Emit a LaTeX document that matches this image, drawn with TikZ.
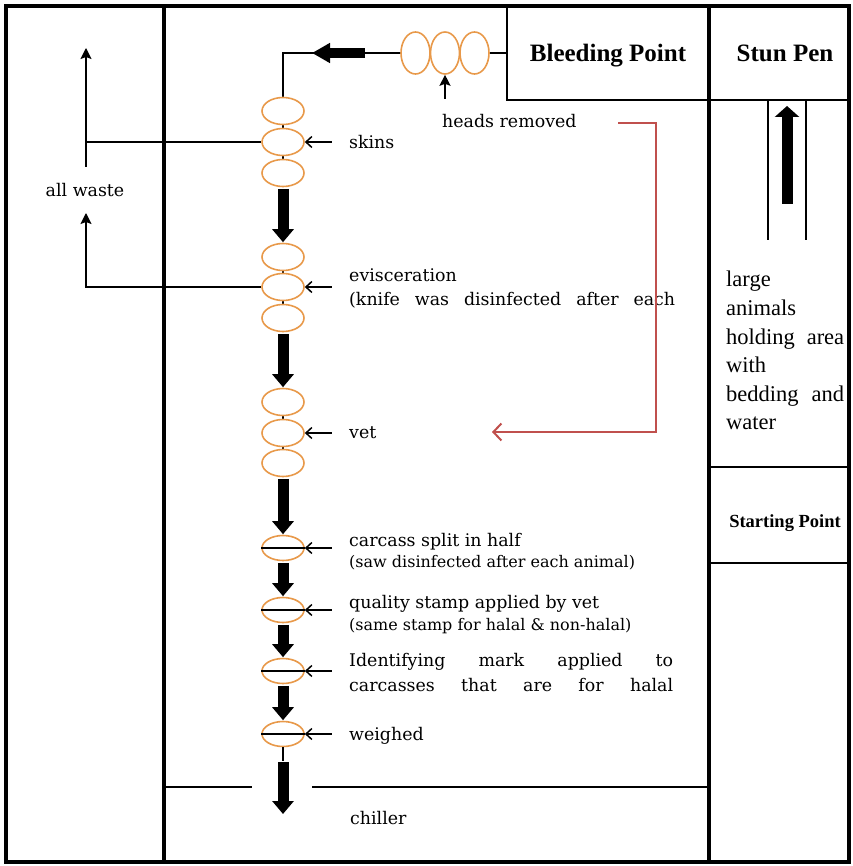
\documentclass[tikz,border=0pt]{standalone}
\usepackage{fontspec}
\setmainfont{DejaVu Serif}
\newfontfamily\tnr{Liberation Serif}
\usetikzlibrary{shapes.geometric,arrows.meta}
\definecolor{ovalc}{HTML}{E8994A}
\definecolor{redc}{HTML}{C0504D}
\pgfdeclarelayer{background}
\pgfsetlayers{background,main}
\begin{document}
\begin{tikzpicture}[x=1pt,y=-1pt,
  oval/.style={ellipse,draw=ovalc,line width=1.6pt,fill=white,minimum width=42pt,minimum height=27pt,inner sep=0pt},
  hoval/.style={oval,minimum width=29pt,minimum height=42pt},
  soval/.style={oval,minimum height=25pt},
  wall/.style={line width=3.5pt},
  thinwall/.style={line width=1.8pt},
  chain/.style={line width=1.5pt},
  blockarrow/.style={line width=11pt,-{Triangle[width=21pt,length=13pt]},shorten <=1.5pt,shorten >=0.5pt},
  lblarrow/.style={line width=1.5pt,-{Straight Barb[length=6pt,width=11pt,line width=1.5pt]}},
  wastearrow/.style={line width=1.5pt,-{Stealth[length=11pt,width=11pt,inset=2pt]}},
  redarrow/.style={draw=redc,line width=2pt,-{Straight Barb[length=8pt,width=17pt,line width=2pt]}},
  lbl/.style={anchor=base west,inner sep=0pt,font=\fontsize{17.4}{20}\selectfont},
  sublbl/.style={anchor=base west,inner sep=0pt,font=\fontsize{16}{19}\selectfont},
  boldlbl/.style={anchor=base,inner sep=0pt,font=\tnr\bfseries\fontsize{25}{30}\selectfont},
  timeslbl/.style={anchor=base west,inner sep=0pt,font=\tnr\fontsize{22.5}{28}\selectfont}
]
\useasboundingbox (0,0) rectangle (852,866);

% walls
\draw[wall] (6,6) rectangle (849,862);
\draw[wall] (164,6) -- (164,862);
\draw[wall] (709,6) -- (709,862);
\draw[thinwall] (507,6) -- (507,100) -- (709,100);
\draw[thinwall] (709,100) -- (849,100);
\draw[thinwall] (709,467) -- (849,467);
\draw[thinwall] (709,563) -- (849,563);
\draw[thinwall] (164,787) -- (252,787);
\draw[thinwall] (312,787) -- (709,787);
% stun pen chute
\draw[chain] (768,100) -- (768,240);
\draw[chain] (806,100) -- (806,240);
\coordinate (stunA) at (787,204);
\coordinate (stunB) at (787,106);
\draw[line width=11pt,-{Triangle[width=24pt,length=11pt]}] (stunA) -- (stunB);

% top horizontal ovals
\node[hoval] (h1) at (415.5,53) {};
\node[hoval] (h2) at (445,53) {};
\node[hoval] (h3) at (474.5,53) {};
\coordinate (bp) at (507,53);

% skins group
\node[oval] (s1) at (283,111) {};
\node[oval] (s2) at (283,142) {};
\node[oval] (s3) at (283,173) {};
% evisceration group
\node[oval] (e1) at (283,257) {};
\node[oval] (e2) at (283,287) {};
\node[oval] (e3) at (283,318) {};
% vet group
\node[oval] (v1) at (283,402) {};
\node[oval] (v2) at (283,433) {};
\node[oval] (v3) at (283,463) {};
% single ovals
\node[soval] (c1) at (283,548) {};
\node[soval] (c2) at (283,610) {};
\node[soval] (c3) at (283,671) {};
\node[soval] (c4) at (283,734) {};

\begin{pgfonlayer}{background}
\draw[chain] (s3.center) -- (s1.center) |- (h1.center) -- (h3.center) -- (bp);
\draw[chain] (e1.center) -- (e3.center);
\draw[chain] (v1.center) -- (v3.center);
\end{pgfonlayer}

% lines across single ovals
\foreach \n in {c1,c2,c3,c4} \draw[chain] (\n.west) -- (\n.east);

% block arrows
\coordinate (tl1) at (365,53);
\coordinate (tl2) at (312,53);
\draw[line width=10pt,-{Triangle[width=19pt,length=18pt]}] (tl1) -- (tl2);
\draw[blockarrow] (s3.south) -- (e1.north);
\draw[blockarrow] (e3.south) -- (v1.north);
\draw[blockarrow] (v3.south) -- (c1.north);
\draw[blockarrow] (c1.south) -- (c2.north);
\draw[blockarrow] (c2.south) -- (c3.north);
\draw[blockarrow] (c3.south) -- (c4.north);
\coordinate (wk) at (283,761);
\coordinate (chl) at (283,814);
\draw[chain] (c4.south) -- (wk);
\draw[line width=11pt,-{Triangle[width=21pt,length=13pt]}] ([yshift=-1pt]wk) -- (chl);

% heads removed arrow
\coordinate (hr) at (445,99);
\draw[wastearrow] (hr) -- (h2.south);

% waste arrows
\coordinate (w1b) at (86,167);
\coordinate (w1t) at (86,48);
\coordinate (w2t) at (86,213);
\draw[chain] (s2.west) -- (s2.west -| w1t);
\draw[wastearrow] (w1b) -- (w1t);
\draw[wastearrow] (e2.west) -| (w2t);

% label arrows
\foreach \n in {s2,e2,v2,c1,c2,c3,c4}
  \draw[lblarrow] ([xshift=27pt]\n.east) -- (\n.east);

% texts
\node[boldlbl] (tbleed) at (608,62) {Bleeding Point};
\node[boldlbl] (tstun) at (785,62) {Stun Pen};
\node[boldlbl,font=\tnr\bfseries\fontsize{18.5}{22}\selectfont] (tstart) at (785,527) {Starting Point};
\node[timeslbl] (ta1) at (726,287) {large};
\node[timeslbl] (ta2) at (726,315.5) {animals};
\node[timeslbl] (ta3) at (726,344) {\makebox[118pt][s]{holding area}};
\node[timeslbl] (ta4) at (726,372.5) {with};
\node[timeslbl] (ta5) at (726,401) {\makebox[118pt][s]{bedding and}};
\node[timeslbl] (ta6) at (726,429.5) {water};

\node[lbl] (theads) at (442,128) {heads removed};
\node[lbl,anchor=base] (twaste) at (85,197) {all waste};
\node[lbl] (tskins) at (349,149) {skins};
\node[lbl] (tevis) at (349,281) {evisceration};
\node[lbl] (tknife) at (349,305) {\makebox[326pt][s]{(knife was disinfected after each}};
\node[lbl] (tvet) at (349,438) {vet};
\node[lbl] (tcarc) at (349,546) {carcass split in half};
\node[sublbl] (tsaw) at (349,567) {(saw disinfected after each animal)};
\node[lbl] (tqual) at (349,608) {quality stamp applied by vet};
\node[sublbl] (tsame) at (349,630) {(same stamp for halal \& non-halal)};
\node[lbl] (tid1) at (349,666) {\makebox[324pt][s]{Identifying mark applied to}};
\node[lbl] (tid2) at (349,691) {\makebox[324pt][s]{carcasses that are for halal}};
\node[lbl] (tweigh) at (349,740) {weighed};
\node[lbl] (tchill) at (350,824) {chiller};

% red arrow
\coordinate (r1) at (618,123);
\coordinate (rc) at (656,432);
\coordinate (r2) at (492,432);
\draw[redarrow] (r1) -| (rc) -- (r2);
\end{tikzpicture}
\end{document}
